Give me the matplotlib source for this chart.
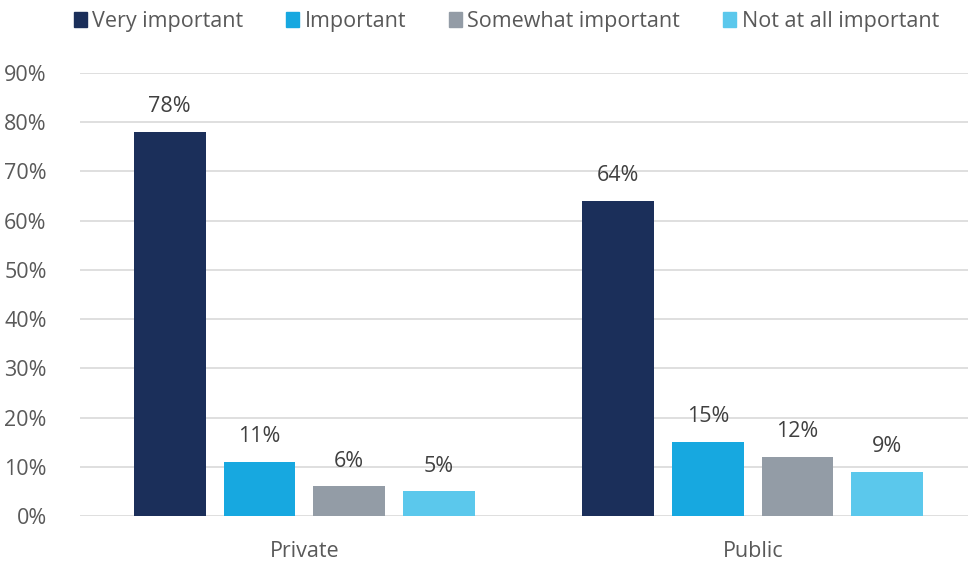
import matplotlib
matplotlib.use('Agg')
import matplotlib.pyplot as plt
import numpy as np

# Datos del grafico
categories = ['Private', 'Public']
series_names = ['Very important', 'Important', 'Somewhat important', 'Not at all important']
very_important = [78, 64]
important = [11, 15]
somewhat_important = [6, 12]
not_at_all = [5, 9]
series_values = [very_important, important, somewhat_important, not_at_all]
colors = ['#1B2F5A', '#17A8E0', '#939CA6', '#5BC8EC']
y_ticks = [0, 10, 20, 30, 40, 50, 60, 70, 80, 90]

plt.rcParams['font.family'] = ['Open Sans', 'DejaVu Sans']
fs = 15.5

fig = plt.figure(figsize=(9.68, 5.61), dpi=100)
ax = fig.add_axes([80 / 968, 45 / 561, 897 / 968, 443 / 561])

x = np.arange(len(categories))
width = 0.16
offsets = [-0.3, -0.1, 0.1, 0.3]

for name, vals, off, col in zip(series_names, series_values, offsets, colors):
    bars = ax.bar(x + off, vals, width, color=col, label=name, zorder=3)
    for b, v in zip(bars, vals):
        ax.text(b.get_x() + b.get_width() / 2, v + 3.0, f'{v}%',
                ha='center', va='bottom', fontsize=fs, color='#404040')

ax.set_xlim(-0.5, 1.5)
ax.set_ylim(0, 90)
ax.set_yticks(y_ticks)
ax.set_yticklabels([f'{t}%' for t in y_ticks], fontsize=fs, color='#595959')
ax.set_xticks(x)
ax.set_xticklabels(categories, fontsize=fs, color='#595959')
ax.tick_params(axis='both', length=0)
ax.tick_params(axis='y', pad=24)
ax.tick_params(axis='x', pad=18)
ax.yaxis.grid(True, color='#D9D9D9', linewidth=1.2, zorder=0)
for s in ax.spines.values():
    s.set_visible(False)

handles = [plt.Rectangle((0, 0), 1, 1, color=c) for c in colors]
fig.legend(handles, series_names, loc='upper center', bbox_to_anchor=(0.523, 1.015),
           ncol=4, frameon=False, fontsize=fs, handlelength=0.6, handleheight=0.7,
           handletextpad=0.25, columnspacing=2.0, labelcolor='#595959')

fig.savefig('out.png', dpi=100)
